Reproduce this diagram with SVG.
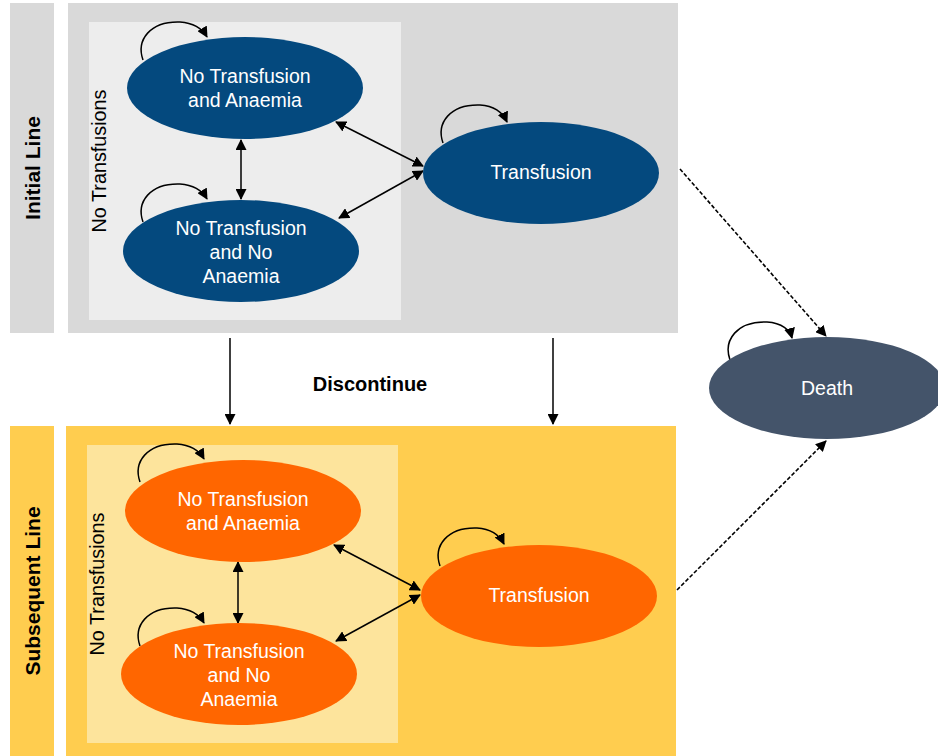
<svg xmlns="http://www.w3.org/2000/svg" width="938" height="756" viewBox="0 0 938 756">
<defs>
<marker id="ah" markerWidth="11" markerHeight="11" refX="10" refY="5.5" orient="auto-start-reverse" markerUnits="userSpaceOnUse">
<path d="M0,0 L11,5.5 L0,11 z" fill="#000"/>
</marker>
<style>
.lbl{font-family:"Liberation Sans",Arial,sans-serif;font-size:21px;font-weight:bold;fill:#000;text-anchor:middle}
.nt{font-family:"Liberation Sans",Arial,sans-serif;font-size:19.8px;fill:#000;text-anchor:middle}
.t{font-family:"Liberation Sans",Arial,sans-serif;font-size:19.5px;fill:#fff;text-anchor:middle}
.c{fill:none;stroke:#000;stroke-width:1.5}
.d{fill:none;stroke:#000;stroke-width:1.6;stroke-dasharray:4,2}
.blue{fill:#04497e}
.orange{fill:#ff6600}
</style>
</defs>
<rect width="938" height="756" fill="#fff"/>
<g id="initial-band">
<rect x="10" y="3" width="44" height="330" fill="#d9d9d9"/>
<text class="lbl" transform="translate(40,168) rotate(-90)">Initial Line</text>
</g>
<g id="initial-panel">
<rect x="68" y="3" width="610" height="330" fill="#d9d9d9"/>
<rect x="89" y="22" width="312" height="298" fill="#ededed"/>
<text class="nt" transform="translate(106,161) rotate(-90)">No Transfusions</text>
</g>
<g id="subsequent-band">
<rect x="10" y="426" width="44" height="330" fill="#ffcd4f"/>
<text class="lbl" transform="translate(40,591) rotate(-90)">Subsequent Line</text>
</g>
<g id="subsequent-panel">
<rect x="66" y="426" width="610" height="330" fill="#ffcd4f"/>
<rect x="87" y="445" width="311" height="298" fill="#fde49c"/>
<text class="nt" transform="translate(104,584) rotate(-90)">No Transfusions</text>
</g>
<g id="connectors">
<path class="c" d="M143,60 C136,40 150,21 180,22 C195,23 203,30 207,37" marker-end="url(#ah)"/>
<path class="c" d="M143,222 C136,202 150,183 180,184 C195,185 203,192 207,199" marker-end="url(#ah)"/>
<path class="c" d="M443,143 C436,123 450,104 480,105 C495,106 503,113 507,122" marker-end="url(#ah)"/>
<path class="c" d="M730,360 C723,340 737,321 767,322 C782,323 790,330 792,338" marker-end="url(#ah)"/>
<path class="c" d="M140,482 C133,462 147,443 177,444 C192,445 200,452 204,459" marker-end="url(#ah)"/>
<path class="c" d="M140,646 C133,626 147,607 177,608 C192,609 200,616 204,623" marker-end="url(#ah)"/>
<path class="c" d="M440,566 C433,546 447,527 477,528 C492,529 500,536 504,544" marker-end="url(#ah)"/>
<line class="c" x1="241" y1="140" x2="241" y2="199" marker-start="url(#ah)" marker-end="url(#ah)"/>
<line class="c" x1="336" y1="122" x2="423" y2="166" marker-start="url(#ah)" marker-end="url(#ah)"/>
<line class="c" x1="339" y1="218" x2="423" y2="171" marker-start="url(#ah)" marker-end="url(#ah)"/>
<line class="c" x1="238" y1="562" x2="238" y2="623" marker-start="url(#ah)" marker-end="url(#ah)"/>
<line class="c" x1="334" y1="545" x2="420" y2="590" marker-start="url(#ah)" marker-end="url(#ah)"/>
<line class="c" x1="336" y1="641" x2="420" y2="595" marker-start="url(#ah)" marker-end="url(#ah)"/>
<line class="c" x1="230" y1="338" x2="230" y2="424" marker-end="url(#ah)"/>
<line class="c" x1="553" y1="338" x2="553" y2="424" marker-end="url(#ah)"/>
<line class="d" x1="680" y1="169" x2="826" y2="336" marker-end="url(#ah)"/>
<line class="d" x1="677" y1="590" x2="826" y2="441" marker-end="url(#ah)"/>
</g>
<g id="discontinue-label">
<text class="lbl" x="370" y="391" style="font-size:20px">Discontinue</text>
</g>
<g id="n-init-ta">
<ellipse class="blue" cx="245" cy="88" rx="118" ry="51"/>
<text class="t" x="245" y="83">No Transfusion</text>
<text class="t" x="245" y="107">and Anaemia</text>
</g>
<g id="n-init-tna">
<ellipse class="blue" cx="241" cy="251" rx="118" ry="51"/>
<text class="t" x="241" y="235">No Transfusion</text>
<text class="t" x="241" y="259">and No</text>
<text class="t" x="241" y="283">Anaemia</text>
</g>
<g id="n-init-t">
<ellipse class="blue" cx="541" cy="173" rx="118" ry="51"/>
<text class="t" x="541" y="179">Transfusion</text>
</g>
<g id="n-death">
<ellipse cx="827" cy="388" rx="118" ry="51" fill="#44546a"/>
<text class="t" x="827" y="395">Death</text>
</g>
<g id="n-sub-ta">
<ellipse class="orange" cx="243" cy="511" rx="118" ry="51"/>
<text class="t" x="243" y="506">No Transfusion</text>
<text class="t" x="243" y="530">and Anaemia</text>
</g>
<g id="n-sub-tna">
<ellipse class="orange" cx="239" cy="674" rx="118" ry="51"/>
<text class="t" x="239" y="658">No Transfusion</text>
<text class="t" x="239" y="682">and No</text>
<text class="t" x="239" y="706">Anaemia</text>
</g>
<g id="n-sub-t">
<ellipse class="orange" cx="539" cy="596" rx="118" ry="51"/>
<text class="t" x="539" y="602">Transfusion</text>
</g>
</svg>
